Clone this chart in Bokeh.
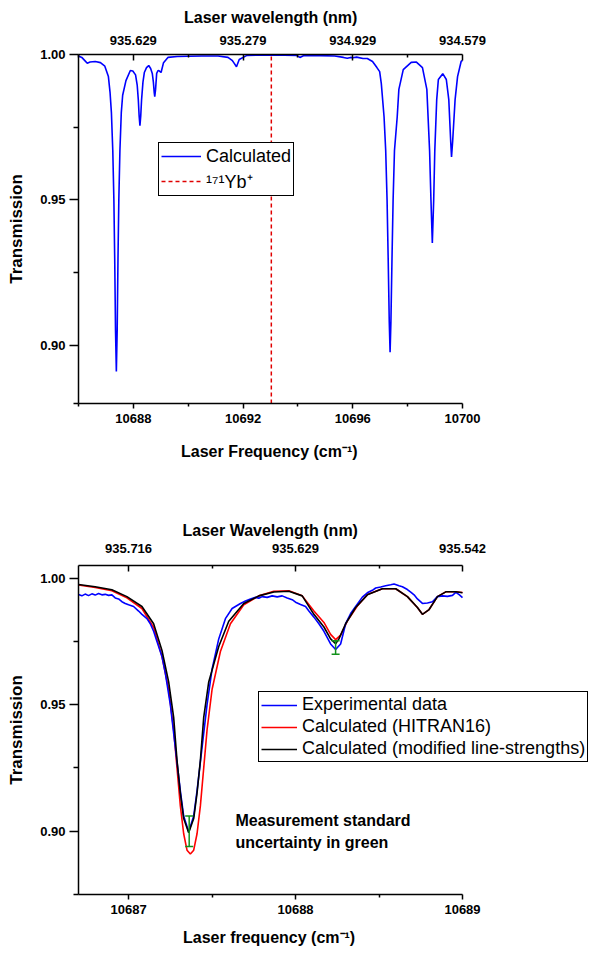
from bokeh.plotting import figure
from bokeh.models import (Range1d, LinearAxis, FixedTicker, Legend, LegendItem, Title,
                          Whisker, TeeHead, ColumnDataSource, Label, PrintfTickFormatter)
from bokeh.layouts import column
from bokeh.embed import file_html
from bokeh.resources import INLINE

FONT = "Liberation Sans"

# ---------------- top panel data ----------------
top_freq = [10686.00, 10686.12, 10686.24, 10686.32, 10686.42, 10686.61, 10686.80, 10686.96,
            10687.09, 10687.15, 10687.20, 10687.25, 10687.29, 10687.32, 10687.35, 10687.38,
            10687.41, 10687.44, 10687.47, 10687.51, 10687.56, 10687.61, 10687.73, 10687.89,
            10687.98, 10688.08, 10688.14, 10688.18, 10688.21, 10688.24, 10688.27, 10688.30,
            10688.35, 10688.40, 10688.48, 10688.56, 10688.63, 10688.69, 10688.73, 10688.76,
            10688.78, 10688.81, 10688.85, 10688.90, 10688.94, 10689.01, 10689.10, 10689.26,
            10689.60, 10690.00, 10690.50, 10691.09, 10691.45, 10691.60, 10691.66, 10691.76,
            10691.86, 10692.14, 10692.80, 10693.50, 10693.95, 10694.07, 10694.20, 10694.80,
            10695.34, 10695.66, 10695.80, 10695.92, 10696.00, 10696.14, 10696.37, 10696.53,
            10696.72, 10696.88, 10696.98, 10697.04, 10697.14, 10697.20, 10697.25, 10697.29,
            10697.33, 10697.36, 10697.39, 10697.43, 10697.47, 10697.52, 10697.62, 10697.68,
            10697.84, 10698.13, 10698.32, 10698.54, 10698.70, 10698.80, 10698.85, 10698.90,
            10698.95, 10698.99, 10699.06, 10699.12, 10699.28, 10699.41, 10699.50, 10699.57,
            10699.60, 10699.64, 10699.73, 10699.82, 10699.95, 10700.00]
top_trans = [0.9995, 0.9990, 0.9978, 0.9970, 0.9974, 0.9976, 0.9972, 0.9960,
             0.9924, 0.9870, 0.9800, 0.9670, 0.9500, 0.9300, 0.9050, 0.8910,
             0.9050, 0.9300, 0.9500, 0.9670, 0.9800, 0.9860, 0.9910, 0.9945,
             0.9943, 0.9930, 0.9895, 0.9845, 0.9790, 0.9755, 0.9790, 0.9845,
             0.9905, 0.9938, 0.9955, 0.9962, 0.9952, 0.9935, 0.9905, 0.9870,
             0.9855, 0.9880, 0.9935, 0.9945, 0.9944, 0.9938, 0.9972, 0.9990,
             0.9993, 0.9994, 0.9995, 0.9995, 0.9990, 0.9980, 0.9972, 0.9958,
             0.9983, 0.9997, 0.9998, 0.9998, 0.9997, 0.9990, 0.9996, 0.9996,
             0.9995, 0.9990, 0.9987, 0.9990, 0.9989, 0.9991, 0.9986, 0.9986,
             0.9976, 0.9955, 0.9941, 0.9900, 0.9786, 0.9670, 0.9500, 0.9300,
             0.9080, 0.8976, 0.9080, 0.9300, 0.9500, 0.9670, 0.9786, 0.9880,
             0.9948, 0.9973, 0.9974, 0.9955, 0.9880, 0.9670, 0.9500, 0.9352,
             0.9500, 0.9670, 0.9845, 0.9914, 0.9934, 0.9914, 0.9845, 0.9700,
             0.9648, 0.9700, 0.9845, 0.9924, 0.9976, 0.9980]
yb_freq = 10693.03
top_xlim = (10686.0, 10700.0)
top_ylim = (0.88, 1.00)
top_xticks = [10688, 10692, 10696, 10700]
top_xlabels = ["10688", "10692", "10696", "10700"]
top_wl_labels = ["935.629", "935.279", "934.929", "934.579"]
top_xminor = [10686, 10690, 10694, 10698]
top_yticks = [0.90, 0.95, 1.00]
top_yminor = [0.88, 0.925, 0.975]

# ---------------- bottom panel data ----------------
exp_freq = [10686.70, 10686.72, 10686.74, 10686.76, 10686.78, 10686.80, 10686.82, 10686.84,
            10686.86, 10686.88, 10686.90, 10686.92, 10686.94, 10686.96, 10686.98, 10687.00,
            10687.03, 10687.06, 10687.08, 10687.11, 10687.13, 10687.15, 10687.17, 10687.20,
            10687.22, 10687.25, 10687.28, 10687.31, 10687.33, 10687.36, 10687.39, 10687.41,
            10687.44, 10687.47, 10687.50, 10687.54, 10687.58, 10687.62, 10687.64, 10687.67,
            10687.70, 10687.73, 10687.76, 10687.78, 10687.80, 10687.83, 10687.86, 10687.89,
            10687.92, 10687.95, 10687.98, 10688.00, 10688.03, 10688.06, 10688.08, 10688.11,
            10688.14, 10688.17, 10688.21, 10688.24, 10688.27, 10688.30, 10688.33, 10688.36,
            10688.40, 10688.43, 10688.46, 10688.48, 10688.51, 10688.54, 10688.57, 10688.59,
            10688.62, 10688.64, 10688.67, 10688.69, 10688.71, 10688.73, 10688.76, 10688.79,
            10688.82, 10688.85, 10688.88, 10688.91, 10688.94, 10688.96, 10688.98, 10689.00]
exp_trans = [0.9935, 0.9930, 0.9937, 0.9931, 0.9938, 0.9933, 0.9939, 0.9934,
             0.9936, 0.9932, 0.9934, 0.9922, 0.9918, 0.9907, 0.9900, 0.9895,
             0.9888, 0.9870, 0.9857, 0.9840, 0.9820, 0.9790, 0.9750, 0.9690,
             0.9625, 0.9500, 0.9330, 0.9160, 0.9060, 0.8998, 0.9060, 0.9160,
             0.9330, 0.9500, 0.9640, 0.9760, 0.9840, 0.9880, 0.9888, 0.9900,
             0.9910, 0.9918, 0.9924, 0.9921, 0.9927, 0.9924, 0.9930, 0.9926,
             0.9930, 0.9922, 0.9915, 0.9905, 0.9896, 0.9888, 0.9870, 0.9846,
             0.9820, 0.9790, 0.9740, 0.9718, 0.9740, 0.9820, 0.9860, 0.9888,
             0.9925, 0.9942, 0.9952, 0.9961, 0.9965, 0.9970, 0.9974, 0.9977,
             0.9970, 0.9966, 0.9955, 0.9945, 0.9934, 0.9918, 0.9900, 0.9902,
             0.9907, 0.9927, 0.9930, 0.9928, 0.9932, 0.9944, 0.9935, 0.9923]

hit_freq = [10686.70, 10686.80, 10686.90, 10686.99, 10687.08, 10687.15, 10687.20, 10687.24,
            10687.27, 10687.29, 10687.31, 10687.33, 10687.35, 10687.37, 10687.39, 10687.41,
            10687.43, 10687.45, 10687.47, 10687.50, 10687.55, 10687.61, 10687.69, 10687.78,
            10687.87, 10687.96, 10688.04, 10688.11, 10688.17, 10688.21, 10688.24, 10688.27,
            10688.31, 10688.37, 10688.43, 10688.52, 10688.60, 10688.67, 10688.73, 10688.76,
            10688.80, 10688.85, 10688.90, 10688.96, 10689.00]
hit_trans = [0.9973, 0.9963, 0.9950, 0.9922, 0.9880, 0.9805, 0.9690, 0.9560,
             0.9400, 0.9250, 0.9100, 0.8990, 0.8925, 0.8910, 0.8925, 0.8990,
             0.9100, 0.9250, 0.9400, 0.9560, 0.9710, 0.9820, 0.9895, 0.9930,
             0.9948, 0.9950, 0.9930, 0.9870, 0.9825, 0.9778, 0.9757, 0.9775,
             0.9830, 0.9890, 0.9935, 0.9958, 0.9958, 0.9927, 0.9884, 0.9857,
             0.9876, 0.9927, 0.9946, 0.9946, 0.9943]

mod_freq = [10686.70, 10686.80, 10686.90, 10686.99, 10687.08, 10687.15, 10687.20, 10687.24,
            10687.27, 10687.29, 10687.31, 10687.33, 10687.36, 10687.39, 10687.41, 10687.43,
            10687.45, 10687.48, 10687.54, 10687.60, 10687.69, 10687.78, 10687.87, 10687.96,
            10688.04, 10688.11, 10688.17, 10688.21, 10688.24, 10688.26, 10688.30, 10688.36,
            10688.43, 10688.52, 10688.60, 10688.67, 10688.73, 10688.76, 10688.80, 10688.85,
            10688.90, 10688.96, 10689.00]
mod_trans = [0.9975, 0.9966, 0.9954, 0.9927, 0.9888, 0.9820, 0.9714, 0.9590,
             0.9450, 0.9280, 0.9150, 0.9050, 0.8994, 0.9050, 0.9150, 0.9280,
             0.9450, 0.9590, 0.9730, 0.9830, 0.9900, 0.9930, 0.9945, 0.9948,
             0.9930, 0.9857, 0.9807, 0.9760, 0.9741, 0.9760, 0.9820, 0.9884,
             0.9934, 0.9958, 0.9958, 0.9927, 0.9884, 0.9857, 0.9876, 0.9927,
             0.9946, 0.9946, 0.9942]

err_freq = [10687.363, 10688.24]
err_center = [0.9000, 0.9726]
err_sigma = [0.0060, 0.0027]

bot_xlim = (10686.7, 10689.0)
bot_ylim = (0.875, 1.005)
bot_xticks = [10687, 10688, 10689]
bot_xlabels = ["10687", "10688", "10689"]
bot_wl_labels = ["935.716", "935.629", "935.542"]
bot_xminor = [10687.5, 10688.5]
bot_yticks = [0.90, 0.95, 1.00]
bot_yminor = [0.875, 0.925, 0.975]

# ---------------- layout (pixels) ----------------
FIG_W = 590          # figure width (frame is extended to the right edge so legends are not clipped)
BORDER_L = 78        # left border -> frame starts here
AXIS_W = 384         # drawn length of the x axes
TITLE_PX = 16


def style_axis(ax, tick_in, tick_out, minor_in, minor_out, lab_standoff, title_standoff=0):
    ax.axis_line_color = "black"
    ax.axis_line_width = 1.5
    ax.major_tick_line_width = 1.5
    ax.minor_tick_line_width = 1.5
    ax.major_tick_line_color = "black"
    ax.minor_tick_line_color = "black"
    ax.major_tick_in = tick_in
    ax.major_tick_out = tick_out
    ax.minor_tick_in = minor_in
    ax.minor_tick_out = minor_out
    ax.major_label_standoff = lab_standoff
    ax.axis_label_standoff = title_standoff
    ax.major_label_text_font = FONT
    ax.major_label_text_font_style = "bold"
    ax.major_label_text_font_size = "13px"
    ax.major_label_text_color = "black"
    ax.axis_label_text_font = FONT
    ax.axis_label_text_font_style = "bold"
    ax.axis_label_text_font_size = "17px"
    ax.axis_label_text_color = "black"


def make_fig(height, xlim, ylim, mb_top, mb_bottom):
    px_per_unit = AXIS_W / (xlim[1] - xlim[0])
    x_end = xlim[1] + (FIG_W - BORDER_L - AXIS_W) / px_per_unit
    p = figure(width=FIG_W, height=height, x_range=Range1d(xlim[0], x_end),
               y_range=Range1d(*ylim),
               output_backend="svg", toolbar_location=None, tools="",
               min_border_left=BORDER_L, min_border_right=0,
               min_border_top=mb_top, min_border_bottom=mb_bottom)
    p.grid.visible = False
    p.outline_line_color = None
    p.background_fill_color = "white"
    p.border_fill_color = "white"
    return p


def add_title(p, text, place, est_width, standoff, valign):
    t = Title(text=text, align="left", offset=AXIS_W / 2 - est_width / 2,
              standoff=standoff, vertical_align=valign,
              text_font=FONT, text_font_size=f"{TITLE_PX}px", text_font_style="bold",
              text_color="black")
    p.add_layout(t, place)


def setup_axes(p, xlim, xticks, xminor, xlabels, wl_labels, yticks, yminor,
               xtitle, xtitle_w, xtitle_so, toptitle, toptitle_w, top_lab_so,
               top_title_so, top_valign):
    bx = p.xaxis[0]
    bx.ticker = FixedTicker(ticks=xticks, minor_ticks=xminor)
    bx.major_label_overrides = {t: l for t, l in zip(xticks, xlabels)}
    bx.bounds = xlim
    style_axis(bx, 0, 5, 0, 3, 5)
    add_title(p, xtitle, "below", xtitle_w, xtitle_so, "bottom")

    ly = p.yaxis[0]
    ly.ticker = FixedTicker(ticks=yticks, minor_ticks=yminor)
    ly.formatter = PrintfTickFormatter(format="%.2f")
    ly.axis_label = "Transmission"
    style_axis(ly, 0, 9, 0, 5, 4, 11)

    tx = LinearAxis(ticker=FixedTicker(ticks=xticks, minor_ticks=xminor),
                    major_label_overrides={t: l for t, l in zip(xticks, wl_labels)},
                    bounds=xlim)
    style_axis(tx, 6, 0, 3, 0, top_lab_so)
    p.add_layout(tx, "above")
    add_title(p, toptitle, "above", toptitle_w, top_title_so, top_valign)


def style_legend(lg, row_h, spacing, glyph_w):
    lg.label_text_font = FONT
    lg.label_text_font_size = "18px"
    lg.label_text_color = "black"
    lg.border_line_color = "black"
    lg.border_line_width = 1
    lg.border_line_alpha = 1
    lg.background_fill_color = "white"
    lg.background_fill_alpha = 1
    lg.padding = 2
    lg.spacing = spacing
    lg.margin = 0
    lg.glyph_width = glyph_w
    lg.glyph_height = row_h
    lg.label_height = row_h
    lg.label_standoff = 5


# ---------------- top figure ----------------
p1 = make_fig(478, top_xlim, top_ylim, 54, 75)
setup_axes(p1, top_xlim, top_xticks, top_xminor, top_xlabels, top_wl_labels,
           top_yticks, top_yminor,
           "Laser Frequency (cm\u207b\u00b9)", 179, 30,
           "Laser wavelength (nm)", 173, 10, 9, "top")
r_calc = p1.line(top_freq, top_trans, line_color="#0000FF", line_width=1.6)
r_yb = p1.line([yb_freq, yb_freq], [top_ylim[0], top_ylim[1]], line_color="#E00000",
               line_width=1.5, line_dash="4 3")
leg1 = Legend(items=[LegendItem(label="Calculated", renderers=[r_calc]),
                     LegendItem(label="\u00b9\u2077\u00b9Yb\u207a", renderers=[r_yb])],
              location=(80, 207))
style_legend(leg1, 22, 2, 40)
p1.add_layout(leg1)

# ---------------- bottom figure ----------------
p2 = make_fig(481, bot_xlim, bot_ylim, 87, 65)
setup_axes(p2, bot_xlim, bot_xticks, bot_xminor, bot_xlabels, bot_wl_labels,
           bot_yticks, bot_yminor,
           "Laser frequency (cm\u207b\u00b9)", 175, 20,
           "Laser Wavelength (nm)", 176, 13, 4, "bottom")
r_hit = p2.line(hit_freq, hit_trans, line_color="#FF0000", line_width=1.6)
r_exp = p2.line(exp_freq, exp_trans, line_color="#0000FF", line_width=1.6)
r_mod = p2.line(mod_freq, mod_trans, line_color="black", line_width=1.6)

err_src = ColumnDataSource(dict(
    x=err_freq,
    upper=[c + s for c, s in zip(err_center, err_sigma)],
    lower=[c - s for c, s in zip(err_center, err_sigma)]))
wh = Whisker(source=err_src, base="x", upper="upper", lower="lower",
             line_color="#11911A", line_width=1.5, level="annotation",
             upper_head=TeeHead(size=8, line_color="#11911A", line_width=1.5),
             lower_head=TeeHead(size=8, line_color="#11911A", line_width=1.5))
p2.add_layout(wh)

leg2 = Legend(items=[LegendItem(label="Experimental data", renderers=[r_exp]),
                     LegendItem(label="Calculated (HITRAN16)", renderers=[r_hit]),
                     LegendItem(label="Calculated (modified line-strengths)", renderers=[r_mod])],
              location=(180, 132))
style_legend(leg2, 20, 1, 36)
p2.add_layout(leg2)

for txt, yv in [("Measurement standard", 0.9042), ("uncertainty in green", 0.8956)]:
    p2.add_layout(Label(x=10687.64, y=yv, text=txt, text_font=FONT, text_font_size="16px",
                        text_font_style="bold", text_color="black", text_baseline="middle"))

layout = column(p1, p2)
open("out.html", "w").write(file_html(layout, INLINE))
